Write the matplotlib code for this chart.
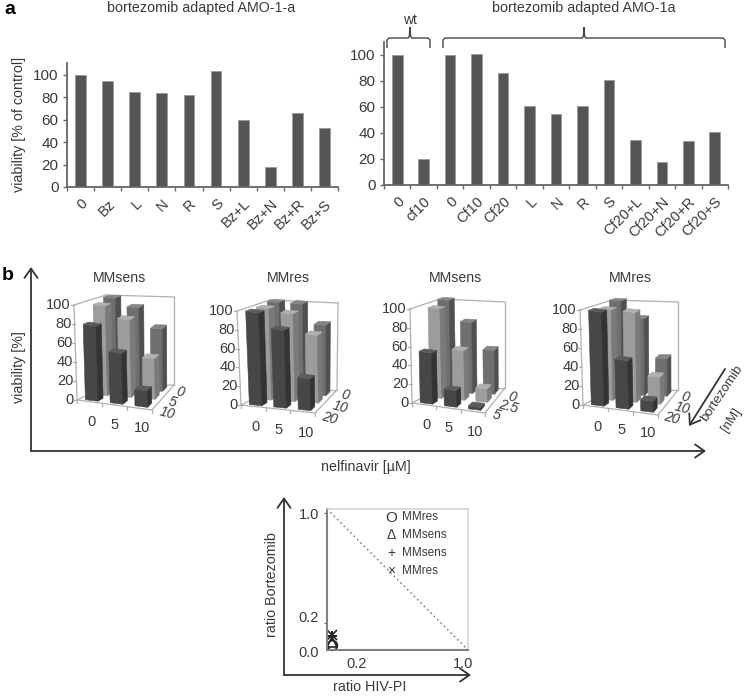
import numpy as np
import matplotlib
matplotlib.use('Agg')
import matplotlib.pyplot as plt
from matplotlib.patches import Polygon, PathPatch, FancyArrowPatch
from matplotlib.path import Path

plt.rcParams['font.family'] = ['Liberation Sans', 'DejaVu Sans']
TXT = '#3a3a3a'
AX = '#666666'

# ---------- data ----------
left_labels = ['0', 'Bz', 'L', 'N', 'R', 'S', 'Bz+L', 'Bz+N', 'Bz+R', 'Bz+S']
left_values = [100, 95, 85, 83.5, 82, 103.5, 59.5, 18, 66, 53]
right_labels = ['0', 'cf10', '0', 'Cf10', 'Cf20', 'L', 'N', 'R', 'S',
                'Cf20+L', 'Cf20+N', 'Cf20+R', 'Cf20+S']
right_values = [100, 20, 100, 100.5, 86, 61, 55, 61, 81, 35, 18, 34, 41]

# rows: highest bortezomib (front) to 0 (back); columns: nelfinavir 0, 5, 10
nelfinavir_labels = ['0', '5', '10']
mm1_title, mm2_title, mm3_title, mm4_title = 'MMsens', 'MMres', 'MMsens', 'MMres'
mm1_values = [[80, 55, 18], [97, 85, 45], [101, 92, 70]]
mm2_values = [[100, 85, 35], [100, 97, 76], [102, 102, 80]]
mm3_values = [[55, 18, 3], [98, 55, 15], [103, 80, 50]]
mm4_values = [[100, 52, 12], [98, 98, 30], [103, 85, 42]]
mm1_depth = ['10', '5', '0']
mm2_depth = ['20', '10', '0']
mm3_depth = ['5', '2.5', '0']
mm4_depth = ['20', '10', '0']
y3d_ticks = [0, 20, 40, 60, 80, 100]

iso_names = ['MMres', 'MMsens', 'MMsens', 'MMres']
iso_symbols = ['O', '\u0394', '+', '\u00d7']
iso_x = [0.035, 0.035, 0.035, 0.035, 0.035]
iso_y = [0.035, 0.055, 0.10, 0.11, 0.105]
iso_markers = ['o', '^', '+', 'x', '+']

# ---------- canvas ----------
W, H = 748, 696
fig = plt.figure(figsize=(W / 100, H / 100), dpi=100, facecolor='white')


def px_axes(l, t, r, b, **kw):
    return fig.add_axes([l / W, 1 - b / H, (r - l) / W, (b - t) / H], **kw)


ov = fig.add_axes([0, 0, 1, 1], zorder=5)
ov.set_xlim(0, W)
ov.set_ylim(H, 0)
ov.axis('off')
ov.patch.set_alpha(0)


def T(x, y, s, size=10, **kw):
    kw.setdefault('ha', 'center')
    kw.setdefault('va', 'center')
    kw.setdefault('color', TXT)
    ov.text(x, y, s, fontsize=size, **kw)


def bar_panel(rect, labels, values, ymax):
    ax = px_axes(*rect)
    n = len(values)
    ax.bar(np.arange(n) + 0.5, values, width=0.4, color='#555555',
           edgecolor='#9a9a9a', linewidth=0.6)
    ax.set_xlim(0, n)
    ax.set_ylim(0, ymax)
    ax.set_xticks(np.arange(n + 1))
    ax.set_xticklabels([])
    ax.set_xticks(np.arange(n) + 0.5, minor=True)
    ax.set_xticklabels(labels, minor=True, rotation=45, ha='right',
                       rotation_mode='anchor', fontsize=10.5, color=TXT)
    ax.tick_params(axis='x', which='minor', length=0, pad=7)
    ax.tick_params(axis='x', which='major', length=3, color=AX, direction='out', width=1)
    ax.set_yticks(range(0, 101, 20))
    ax.tick_params(axis='y', length=3, color=AX, labelsize=11, labelcolor=TXT, pad=3, width=1)
    for s in ('top', 'right'):
        ax.spines[s].set_visible(False)
    for s in ('left', 'bottom'):
        ax.spines[s].set_color(AX)
        ax.spines[s].set_linewidth(1.3)
    return ax


bar_panel((67, 63, 338, 187), left_labels, left_values, 110.7)
bar_panel((384, 42, 728, 185), right_labels, right_values, 110)

T(10, 9, 'a', size=14, weight='bold', color='black')
T(8, 276, 'b', size=14, weight='bold', color='black')
T(201, 8, 'bortezomib adapted AMO-1-a', size=10.3)
T(584, 8, 'bortezomib adapted AMO-1a', size=10.3)
T(410, 20, 'wt', size=10)
T(19, 124, 'viability [% of control]', size=10.3, rotation=90)


def brace(x0, x1, tip, ytop=38, yend=48, ytip=27):
    r = 3
    verts = [(x0, yend), (x0, ytop + r), (x0, ytop), (x0 + r, ytop), (tip - 2, ytop),
             (tip, ytop), (tip, ytip), (tip, ytop), (tip + 2, ytop),
             (x1 - r, ytop), (x1, ytop), (x1, ytop + r), (x1, yend)]
    codes = [Path.MOVETO, Path.LINETO, Path.CURVE3, Path.CURVE3, Path.LINETO,
             Path.CURVE3, Path.CURVE3, Path.CURVE3, Path.CURVE3,
             Path.LINETO, Path.CURVE3, Path.CURVE3, Path.LINETO]
    ov.add_patch(PathPatch(Path(verts, codes), fc='none', ec='#444444', lw=1.0))


brace(387, 430, 410)
brace(443, 725, 584)


# ---------- 3D-look bar charts ----------
def make_proj(c):
    C = {k: np.array(v, float) for k, v in c.items()}

    def proj(u, v, h):
        fl = C['FL'] * (1 - u) + C['FR'] * u
        bl = C['BL'] * (1 - u) + C['BR'] * u
        tf = C['TFL'] * (1 - u) + C['TFR'] * u
        tb = C['TBL'] * (1 - u) + C['TBR'] * u
        lo = fl * (1 - v) + bl * v
        hi = tf * (1 - v) + tb * v
        return lo * (1 - h) + hi * h
    return proj


ROW_COL = [('#474747', '#333333', '#5c5c5c'),
           ('#9c9c9c', '#7a7a7a', '#b0b0b0'),
           ('#6f6f6f', '#505050', '#858585')]


def chart3d(corners, values, title, title_x, xlab_pos, depth_labels, depth_pos):
    p = make_proj(corners)
    wall = '#b0b0b0'
    for a, b in [((0, 0, 0), (1, 0, 0)), ((1, 0, 0), (1, 1, 0)), ((1, 1, 0), (0, 1, 0)),
                 ((0, 1, 0), (0, 0, 0)), ((0, 0, 0), (0, 0, 1)), ((0, 1, 0), (0, 1, 1)),
                 ((1, 1, 0), (1, 1, 1)), ((0, 0, 1), (0, 1, 1)), ((0, 1, 1), (1, 1, 1))]:
        P, Q = p(*a), p(*b)
        ov.plot([P[0], Q[0]], [P[1], Q[1]], color=wall, lw=0.9, zorder=1)
    hw, hd = 0.085, 0.09
    z = 2
    for r in (2, 1, 0):
        for c in range(3):
            v = values[r][c] / 100.0
            uc, vc = (2 * c + 1) / 6, (2 * r + 1) / 6
            u0, u1, v0, v1 = uc - hw, uc + hw, vc - hd, vc + hd
            fc, sc, tc = ROW_COL[r]
            front = [p(u0, v0, 0), p(u1, v0, 0), p(u1, v0, v), p(u0, v0, v)]
            side = [p(u1, v0, 0), p(u1, v1, 0), p(u1, v1, v), p(u1, v0, v)]
            top = [p(u0, v0, v), p(u1, v0, v), p(u1, v1, v), p(u0, v1, v)]
            for pts, col in ((front, fc), (side, sc), (top, tc)):
                ov.add_patch(Polygon(pts, closed=True, fc=col, ec=col, lw=0.4, zorder=z))
            z += 0.01
    for t in y3d_ticks:
        P = p(0, 0, t / 100)
        ov.plot([P[0] - 3, P[0]], [P[1], P[1]], color=wall, lw=0.9, zorder=1)
        T(P[0] - 3, P[1], str(t), size=10.5, ha='right')
    for i in range(4):
        P = p(i / 3, 0, 0)
        ov.plot([P[0], P[0]], [P[1], P[1] + 3], color=wall, lw=0.9, zorder=1)
    T(title_x, 278, title, size=10.2)
    for s, (x, y) in zip(nelfinavir_labels, xlab_pos):
        T(x, y, s, size=10.5)
    for s, (x, y) in zip(depth_labels, depth_pos):
        T(x, y, s, size=10, style='italic', rotation=-15)


chart3d(dict(FL=(77, 400), FR=(152, 410), BR=(174, 385), BL=(107, 386),
             TFL=(74, 305), TFR=(150, 319), TBR=(174, 297), TBL=(106, 295)),
        mm1_values, mm1_title, 120, [(92, 422), (115, 425), (142, 428)],
        mm1_depth, [(167, 413), (172, 402), (180, 392)])
chart3d(dict(FL=(241, 405), FR=(315, 413), BR=(337, 390), BL=(272, 390),
             TFL=(237, 311), TFR=(313, 323), TBR=(338, 303), TBL=(270, 300)),
        mm2_values, mm2_title, 288, [(256, 427), (279, 430), (306, 433)],
        mm2_depth, [(330, 418), (340, 407), (345, 395)])
chart3d(dict(FL=(412, 403), FR=(485, 413), BR=(505, 388), BL=(442, 388),
             TFL=(410, 309), TFR=(483, 322), TBR=(505, 302), TBL=(440, 299)),
        mm3_values, mm3_title, 456, [(427, 425), (449, 428), (475, 432)],
        mm3_depth, [(496, 415), (508, 407), (512, 397)])
chart3d(dict(FL=(583, 405), FR=(658, 415), BR=(678, 390), BL=(612, 390),
             TFL=(580, 310), TFR=(656, 323), TBR=(678, 302), TBL=(612, 300)),
        mm4_values, mm4_title, 630, [(598, 427), (622, 430), (648, 433)],
        mm4_depth, [(672, 418), (682, 408), (685, 397)])


def arrow(p0, p1, lw=1.3, col='#333333'):
    ov.add_patch(FancyArrowPatch(p0, p1, arrowstyle='->,head_length=5,head_width=3.5',
                                 mutation_scale=1.35, color=col, lw=lw, shrinkA=0, shrinkB=0))


arrow((31, 451), (31, 267))
arrow((31, 451), (706, 451))
arrow((725, 369), (689, 426))
T(19, 367, 'viability [%]', size=10.3, rotation=90)
T(366, 467, 'nelfinavir [\u00b5M]', size=10.3)
T(722, 393, 'bortezomib', size=9.5, rotation=56)
T(731, 420, '[nM]', size=9.5, rotation=56)

# ---------- panel c: isobologram ----------
axc = px_axes(327, 509, 468, 650)
axc.set_xlim(0, 1)
axc.set_ylim(0, 1.03)
axc.plot([0, 1], [1.03, 0], color='#777777', lw=1.0, ls=(0, (1.2, 2.2)))
for m, x, y in zip(iso_markers, iso_x, iso_y):
    axc.plot([x], [y], m, mfc='none', mec='#222222', ms=7, mew=1.2, clip_on=False)
axc.set_xticks([])
axc.set_yticks([0.2, 1.0])
axc.set_yticklabels([])
axc.tick_params(axis='y', length=2, color=AX)
for s in ('top', 'right'):
    axc.spines[s].set_color('#d2d2d2')
    axc.spines[s].set_linewidth(1.1)
for s in ('left', 'bottom'):
    axc.spines[s].set_color('#808080')
    axc.spines[s].set_linewidth(1.5)

for i, (sym, name) in enumerate(zip(iso_symbols, iso_names)):
    y = 517.5 + i * 17.7
    T(391, y, sym, size=10 if i else 11)
    T(402, y, name, size=8.5, ha='left')

T(309, 515, '1.0', size=10.5)
T(309, 618, '0.2', size=10.5)
T(309, 653, '0.0', size=10.5)
T(357, 664, '0.2', size=10.5)
T(463, 664, '1.0', size=10.5)
T(370, 687, 'ratio HIV-PI', size=10.3)
T(272, 585, 'ratio Bortezomib', size=10.3, rotation=90)
arrow((284, 675), (284, 497))
arrow((284, 675), (471, 675))

fig.savefig('out.png', dpi=100, facecolor='white')
